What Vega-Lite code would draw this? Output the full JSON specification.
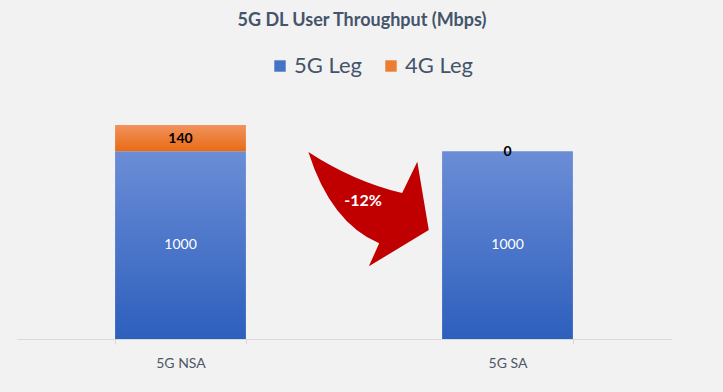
{
  "$schema": "https://vega.github.io/schema/vega-lite/v6.json",
  "width": 654,
  "height": 244,
  "autosize": "none",
  "padding": {"left": 17, "top": 95, "right": 52, "bottom": 53},
  "background": "#f2f2f2",
  "config": {
    "view": {"stroke": null},
    "font": "Lato",
    "axisX": {"domainColor": "#d9d9d9", "tickColor": "#d9d9d9", "tickBand": "extent", "tickSize": 5, "labelFontSize": 14, "labelColor": "#4d5766", "labelPadding": 12, "labelAngle": 0, "labelFont": "Lato", "grid": false}
  },
  "title": {"text": "5G DL User Throughput (Mbps)", "anchor": "middle", "frame": "group", "dx": 18, "offset": 11, "baseline": "alphabetic", "fontSize": 18, "fontWeight": "bold", "color": "#44546a", "font": "Lato"},
  "datasets": {
    "bars": [
      {"category": "5G NSA", "series": "5G Leg", "value": 1000, "order": 1},
      {"category": "5G NSA", "series": "4G Leg", "value": 140, "order": 2},
      {"category": "5G SA", "series": "5G Leg", "value": 1000, "order": 1},
      {"category": "5G SA", "series": "4G Leg", "value": 0, "order": 2}
    ],
    "annotation": [{"category": "5G SA", "value": 700, "label": "-12%"}]
  },
  "data": {"name": "bars"},
  "encoding": {
    "x": {"field": "category", "type": "nominal", "title": null, "sort": ["5G NSA", "5G SA"], "scale": {"paddingInner": 0.6, "paddingOuter": 0.3}}
  },
  "layer": [
    {
      "mark": {"type": "bar", "opacity": 0},
      "encoding": {
        "y": {"field": "value", "type": "quantitative", "stack": "zero", "scale": {"domain": [0, 1300]}, "axis": null},
        "order": {"field": "order"},
        "color": {"field": "series", "type": "nominal", "scale": {"domain": ["5G Leg", "4G Leg"], "range": ["#4472c4", "#ed7d31"]},
          "legend": {"orient": "none", "legendX": 252, "legendY": -40, "direction": "horizontal", "title": null, "symbolType": "square", "symbolSize": 130, "symbolOpacity": 1, "symbolStrokeWidth": 0, "labelFontSize": 22, "labelColor": "#44546a", "labelFont": "Lato", "columnPadding": 17, "padding": 0, "labelOffset": 3}}
      }
    },
    {
      "transform": [
        {"stack": "value", "groupby": ["category"], "sort": [{"field": "order"}], "as": ["v0", "v1"]},
        {"filter": "datum.series == '5G Leg'"}
      ],
      "mark": {"type": "bar", "fill": {"gradient": "linear", "x1": 0, "y1": 0, "x2": 0, "y2": 1, "stops": [{"offset": 0, "color": "#6b8dd6"}, {"offset": 1, "color": "#2d5fbd"}]}},
      "encoding": {
        "y": {"field": "v0", "type": "quantitative"},
        "y2": {"field": "v1"}
      }
    },
    {
      "transform": [
        {"stack": "value", "groupby": ["category"], "sort": [{"field": "order"}], "as": ["v0", "v1"]},
        {"filter": "datum.series == '4G Leg'"}
      ],
      "mark": {"type": "bar", "fill": {"gradient": "linear", "x1": 0, "y1": 0, "x2": 0, "y2": 1, "stops": [{"offset": 0, "color": "#f1925c"}, {"offset": 1, "color": "#e86b15"}]}},
      "encoding": {
        "y": {"field": "v0", "type": "quantitative"},
        "y2": {"field": "v1"}
      }
    },
    {
      "transform": [
        {"stack": "value", "groupby": ["category"], "sort": [{"field": "order"}], "as": ["v0", "v1"]},
        {"calculate": "(datum.v0 + datum.v1) / 2", "as": "mid"},
        {"filter": "datum.series == '5G Leg'"}
      ],
      "mark": {"type": "text", "color": "white", "fontSize": 14, "font": "Lato", "baseline": "middle"},
      "encoding": {
        "y": {"field": "mid", "type": "quantitative"},
        "text": {"field": "value", "type": "quantitative", "format": "d"}
      }
    },
    {
      "transform": [
        {"stack": "value", "groupby": ["category"], "sort": [{"field": "order"}], "as": ["v0", "v1"]},
        {"calculate": "(datum.v0 + datum.v1) / 2", "as": "mid"},
        {"filter": "datum.series == '4G Leg'"}
      ],
      "mark": {"type": "text", "color": "black", "fontSize": 14, "fontWeight": "bold", "font": "Lato", "baseline": "middle", "dy": 1},
      "encoding": {
        "y": {"field": "mid", "type": "quantitative"},
        "text": {"field": "value", "type": "quantitative", "format": "d"}
      }
    },
    {
      "data": {"name": "annotation"},
      "mark": {"type": "point", "shape": "M-1.02,-0.92 Q-0.29,-0.44 0.53,-0.24 L0.78,-0.76 L0.97,0.37 L-0.02,0.97 L0.15,0.59 Q-0.65,0.25 -1.02,-0.92 Z", "size": 14641, "filled": true, "fill": "#c00000", "opacity": 1, "strokeWidth": 0, "xOffset": -72},
      "encoding": {
        "x": {"field": "category", "type": "nominal", "title": null, "bandPosition": 0},
        "y": {"field": "value", "type": "quantitative"}
      }
    },
    {
      "data": {"name": "annotation"},
      "mark": {"type": "text", "color": "white", "fontSize": 16, "fontWeight": "bold", "font": "Lato", "baseline": "middle", "dx": -79, "dy": -7},
      "encoding": {
        "x": {"field": "category", "type": "nominal", "title": null, "bandPosition": 0},
        "y": {"field": "value", "type": "quantitative"},
        "text": {"field": "label"}
      }
    }
  ]
}
